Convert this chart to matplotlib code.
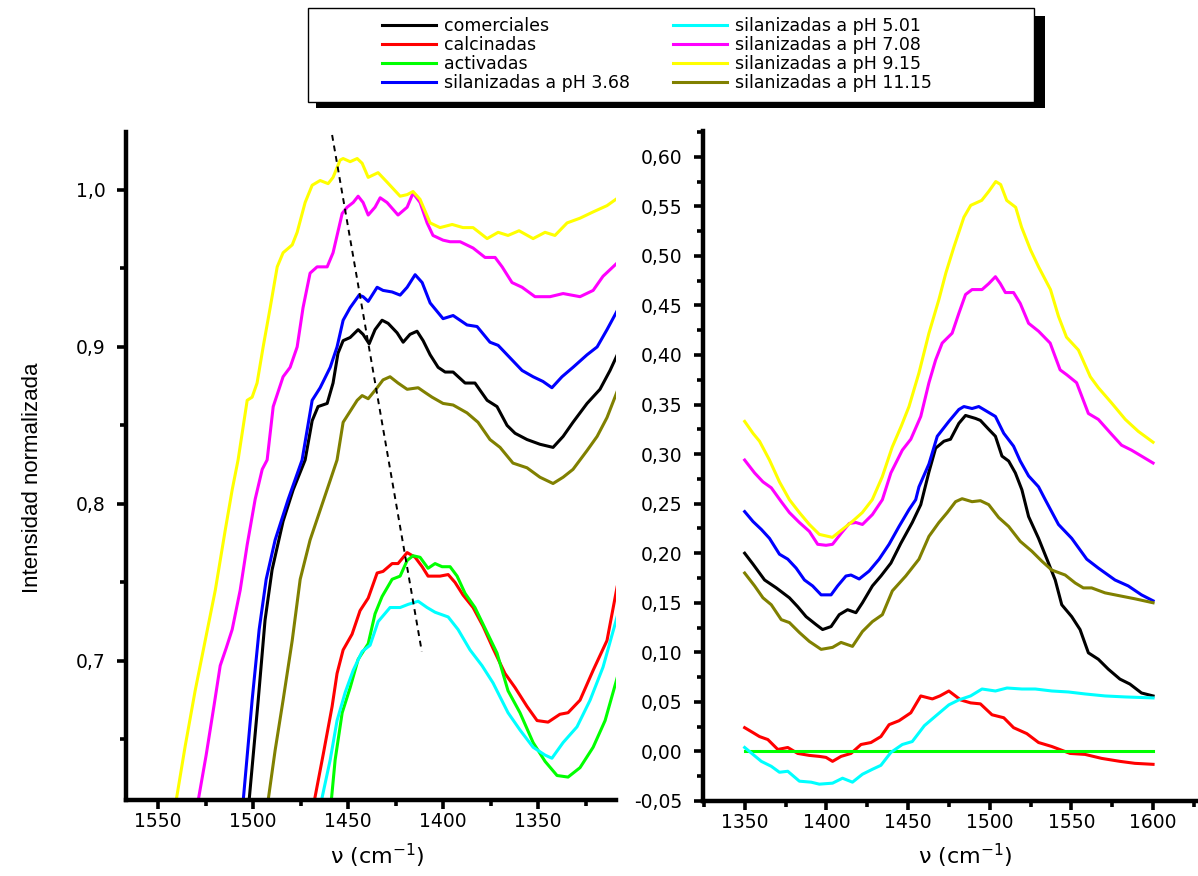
import matplotlib
matplotlib.use("Agg")
import matplotlib.pyplot as plt
from matplotlib.patches import Rectangle
from matplotlib.ticker import MultipleLocator, FuncFormatter

plt.rcParams['font.family'] = ['DejaVu Sans']
plt.rcParams['mathtext.fontset'] = 'dejavusans'

# ---- datos: panel izquierdo (numero de onda, intensidad normalizada) ----
comerciales_izq = [(1502.1, 0.611), (1497.3, 0.675), (1493.7, 0.726), (1490.0, 0.758), (1484.2, 0.789),
                   (1478.9, 0.809), (1472.6, 0.828), (1468.9, 0.853), (1465.8, 0.862), (1461.0, 0.864),
                   (1457.9, 0.877), (1455.3, 0.896), (1452.6, 0.904), (1448.9, 0.906), (1444.7, 0.911),
                   (1442.1, 0.908), (1438.9, 0.902), (1435.8, 0.911), (1432.1, 0.917), (1428.9, 0.915),
                   (1424.2, 0.909), (1421.0, 0.903), (1417.4, 0.908), (1413.7, 0.910), (1410.5, 0.904),
                   (1406.8, 0.895), (1402.6, 0.887), (1398.9, 0.884), (1394.7, 0.884), (1388.4, 0.877),
                   (1383.2, 0.877), (1376.8, 0.866), (1371.6, 0.862), (1366.3, 0.850), (1362.1, 0.845),
                   (1355.8, 0.841), (1349.0, 0.838), (1342.1, 0.836), (1336.8, 0.843), (1331.6, 0.852),
                   (1324.2, 0.864), (1317.4, 0.873), (1312.1, 0.885), (1307.9, 0.896)]
calcinadas_izq = [(1467.9, 0.610), (1463.0, 0.641), (1458.4, 0.671), (1455.8, 0.692), (1452.6, 0.707),
                  (1447.9, 0.717), (1443.7, 0.732), (1439.4, 0.740), (1434.7, 0.756), (1431.6, 0.757),
                  (1426.8, 0.762), (1423.7, 0.762), (1418.9, 0.769), (1414.7, 0.766), (1411.0, 0.760),
                  (1407.9, 0.754), (1401.6, 0.754), (1397.3, 0.755), (1393.7, 0.750), (1389.5, 0.742),
                  (1384.2, 0.734), (1378.9, 0.722), (1373.7, 0.708), (1367.4, 0.692), (1362.1, 0.683),
                  (1355.8, 0.671), (1350.5, 0.662), (1344.7, 0.661), (1338.5, 0.666), (1334.2, 0.667),
                  (1327.9, 0.675), (1321.0, 0.694), (1313.7, 0.713), (1308.4, 0.747)]
activadas_izq = [(1458.9, 0.610), (1456.8, 0.637), (1453.1, 0.667), (1448.9, 0.683), (1444.7, 0.701),
                 (1439.4, 0.711), (1435.8, 0.730), (1432.1, 0.741), (1426.8, 0.752), (1422.6, 0.754),
                 (1418.9, 0.764), (1415.8, 0.767), (1412.1, 0.766), (1407.9, 0.759), (1404.2, 0.762),
                 (1400.5, 0.760), (1396.3, 0.760), (1392.6, 0.754), (1388.4, 0.743), (1383.2, 0.734),
                 (1376.8, 0.718), (1371.6, 0.705), (1365.8, 0.681), (1359.5, 0.667), (1352.6, 0.648),
                 (1346.3, 0.636), (1340.0, 0.627), (1334.2, 0.626), (1327.9, 0.632), (1321.0, 0.645),
                 (1314.7, 0.662), (1308.4, 0.689)]
ph368_izq = [(1505.2, 0.611), (1500.5, 0.675), (1496.8, 0.720), (1493.1, 0.752), (1488.4, 0.777),
             (1481.5, 0.803), (1474.2, 0.828), (1468.9, 0.866), (1464.7, 0.874), (1459.4, 0.887),
             (1455.8, 0.900), (1452.6, 0.917), (1448.9, 0.925), (1444.2, 0.933), (1442.1, 0.932),
             (1439.4, 0.929), (1434.7, 0.938), (1431.6, 0.936), (1426.8, 0.935), (1422.6, 0.933),
             (1418.9, 0.938), (1414.7, 0.946), (1411.0, 0.941), (1406.8, 0.928), (1400.0, 0.918),
             (1394.7, 0.920), (1387.4, 0.914), (1382.1, 0.913), (1375.3, 0.903), (1371.0, 0.901),
             (1364.7, 0.893), (1358.4, 0.885), (1352.6, 0.881), (1347.4, 0.878), (1342.7, 0.874),
             (1337.4, 0.881), (1331.6, 0.887), (1324.2, 0.895), (1318.9, 0.900), (1313.7, 0.911),
             (1307.9, 0.924)]
ph501_izq = [(1464.2, 0.610), (1459.4, 0.637), (1455.8, 0.662), (1451.5, 0.680), (1447.3, 0.694),
             (1442.6, 0.706), (1438.4, 0.710), (1434.2, 0.725), (1427.9, 0.734), (1422.6, 0.734),
             (1418.4, 0.736), (1413.1, 0.738), (1408.4, 0.734), (1404.2, 0.731), (1397.3, 0.728),
             (1392.1, 0.720), (1385.8, 0.707), (1379.5, 0.697), (1373.7, 0.686), (1365.8, 0.667),
             (1359.5, 0.656), (1352.6, 0.645), (1346.3, 0.640), (1342.7, 0.638), (1336.8, 0.648),
             (1329.5, 0.658), (1322.6, 0.675), (1315.8, 0.696), (1308.4, 0.728)]
ph708_izq = [(1528.9, 0.611), (1524.7, 0.640), (1520.5, 0.672), (1517.3, 0.697), (1514.2, 0.708),
             (1511.0, 0.720), (1506.8, 0.745), (1503.1, 0.774), (1498.9, 0.803), (1495.2, 0.822),
             (1492.6, 0.828), (1489.4, 0.862), (1484.2, 0.881), (1480.5, 0.887), (1476.8, 0.900),
             (1473.7, 0.925), (1470.0, 0.947), (1466.3, 0.951), (1461.0, 0.951), (1457.9, 0.960),
             (1453.1, 0.985), (1450.5, 0.989), (1447.3, 0.992), (1444.7, 0.996), (1442.1, 0.992),
             (1439.4, 0.984), (1435.8, 0.989), (1433.1, 0.995), (1429.5, 0.992), (1423.7, 0.984),
             (1418.9, 0.989), (1415.8, 0.998), (1412.1, 0.992), (1408.4, 0.979), (1405.3, 0.971),
             (1400.0, 0.968), (1396.3, 0.967), (1391.0, 0.967), (1384.2, 0.963), (1377.9, 0.957),
             (1372.6, 0.957), (1368.9, 0.951), (1363.7, 0.941), (1358.4, 0.938), (1351.6, 0.932),
             (1343.7, 0.932), (1336.8, 0.934), (1327.9, 0.932), (1321.0, 0.936), (1315.8, 0.945),
             (1307.9, 0.954)]
ph915_izq = [(1540.5, 0.611), (1535.7, 0.646), (1530.5, 0.681), (1525.2, 0.713), (1519.9, 0.745),
             (1514.7, 0.783), (1511.0, 0.809), (1507.9, 0.828), (1503.1, 0.866), (1500.5, 0.868),
             (1497.9, 0.877), (1494.7, 0.900), (1491.0, 0.925), (1487.3, 0.951), (1484.2, 0.960),
             (1479.4, 0.965), (1476.8, 0.973), (1472.6, 0.992), (1468.9, 1.003), (1464.7, 1.006),
             (1460.5, 1.004), (1457.9, 1.008), (1454.2, 1.019), (1452.6, 1.020), (1448.9, 1.018),
             (1445.2, 1.020), (1442.6, 1.017), (1439.4, 1.008), (1434.2, 1.011), (1429.5, 1.005),
             (1422.6, 0.996), (1418.9, 0.997), (1415.8, 0.999), (1412.1, 0.994), (1406.8, 0.979),
             (1401.6, 0.976), (1395.2, 0.978), (1389.5, 0.976), (1384.2, 0.976), (1376.8, 0.969),
             (1371.0, 0.973), (1365.8, 0.971), (1360.0, 0.974), (1352.6, 0.969), (1346.3, 0.973),
             (1341.1, 0.971), (1334.7, 0.979), (1327.9, 0.982), (1321.0, 0.986), (1313.7, 0.990),
             (1307.9, 0.995)]
ph1115_izq = [(1492.1, 0.611), (1488.4, 0.643), (1484.2, 0.675), (1479.4, 0.713), (1475.2, 0.752),
              (1470.0, 0.777), (1464.7, 0.796), (1459.4, 0.815), (1455.8, 0.828), (1452.6, 0.852),
              (1448.9, 0.859), (1445.2, 0.866), (1442.6, 0.869), (1439.4, 0.867), (1434.7, 0.874),
              (1431.6, 0.879), (1427.9, 0.881), (1423.7, 0.877), (1418.9, 0.873), (1413.1, 0.874),
              (1409.5, 0.871), (1405.8, 0.868), (1400.0, 0.864), (1394.7, 0.863), (1387.4, 0.858),
              (1381.6, 0.852), (1375.3, 0.841), (1370.0, 0.836), (1363.2, 0.826), (1355.8, 0.823),
              (1349.0, 0.817), (1342.1, 0.813), (1336.8, 0.817), (1331.6, 0.822), (1324.2, 0.834),
              (1318.9, 0.843), (1313.7, 0.855), (1307.9, 0.873)]
guia_x = [1458.4, 1411.2]
guia_y = [1.035, 0.706]

# ---- datos: panel derecho ----
comerciales_der = [(1350, 0.200), (1355.1, 0.189), (1362.2, 0.173), (1369.4, 0.165), (1377.4, 0.155),
                   (1382.5, 0.146), (1387.6, 0.136), (1393.7, 0.128), (1397.7, 0.123), (1402.9, 0.126),
                   (1407.9, 0.138), (1413.0, 0.143), (1418.1, 0.140), (1422.1, 0.150), (1428.2, 0.167),
                   (1433.4, 0.177), (1439.5, 0.190), (1445.6, 0.210), (1452.6, 0.231), (1457.8, 0.249),
                   (1462.8, 0.282), (1466.9, 0.306), (1472.0, 0.313), (1476.0, 0.315), (1481.1, 0.331),
                   (1485.2, 0.339), (1491.3, 0.336), (1494.3, 0.334), (1499.4, 0.325), (1503.5, 0.318),
                   (1507.5, 0.298), (1511.6, 0.293), (1515.7, 0.281), (1519.7, 0.264), (1523.8, 0.237),
                   (1529.9, 0.215), (1536.0, 0.190), (1540.1, 0.173), (1544.1, 0.148), (1550.2, 0.136),
                   (1555.3, 0.123), (1560.4, 0.0995), (1566.5, 0.093), (1572.6, 0.083), (1579.7, 0.073),
                   (1585.8, 0.068), (1592.9, 0.059), (1600, 0.056)]
calcinadas_der = [(1350, 0.024), (1355.1, 0.019), (1359.1, 0.015), (1364.2, 0.012), (1370.3, 0.002),
                  (1376.4, 0.004), (1382.5, -0.002), (1389.6, -0.004), (1395.7, -0.005), (1399.8, -0.006),
                  (1403.8, -0.010), (1409.0, -0.005), (1415.1, -0.002), (1421.2, 0.007), (1427.3, 0.009),
                  (1433.4, 0.015), (1438.4, 0.027), (1444.5, 0.031), (1451.7, 0.039), (1457.8, 0.056),
                  (1464.9, 0.053), (1469.5, 0.056), (1475.0, 0.061), (1482.2, 0.052), (1488.3, 0.049),
                  (1494.3, 0.048), (1501.4, 0.037), (1508.6, 0.034), (1514.6, 0.024), (1522.7, 0.018),
                  (1529.9, 0.009), (1538.0, 0.005), (1549.2, -0.002), (1558.4, -0.003), (1568.5, -0.007),
                  (1579.7, -0.010), (1588.9, -0.012), (1600, -0.013)]
activadas_der = [(1350, 0.0), (1600, 0.0)]
ph368_der = [(1350, 0.242), (1355.1, 0.232), (1360.2, 0.224), (1365.2, 0.215), (1371.3, 0.199),
             (1376.4, 0.194), (1381.5, 0.185), (1386.6, 0.173), (1391.6, 0.167), (1396.8, 0.158),
             (1402.9, 0.158), (1406.9, 0.167), (1412.0, 0.177), (1415.1, 0.178), (1420.1, 0.174),
             (1426.2, 0.182), (1432.3, 0.194), (1438.4, 0.209), (1444.5, 0.227), (1450.6, 0.244),
             (1454.7, 0.254), (1456.7, 0.267), (1462.8, 0.290), (1467.9, 0.318), (1475.0, 0.333),
             (1481.1, 0.345), (1484.2, 0.348), (1489.2, 0.346), (1493.3, 0.348), (1498.4, 0.343),
             (1503.5, 0.338), (1508.6, 0.321), (1514.6, 0.308), (1518.7, 0.293), (1523.8, 0.278),
             (1529.9, 0.267), (1534.0, 0.254), (1542.1, 0.229), (1550.2, 0.215), (1559.4, 0.194),
             (1566.5, 0.185), (1576.7, 0.173), (1584.8, 0.167), (1592.9, 0.158), (1600, 0.152)]
ph501_der = [(1350, 0.004), (1355.1, -0.003), (1360.2, -0.010), (1366.3, -0.015), (1371.3, -0.021),
             (1376.4, -0.020), (1383.5, -0.030), (1390.7, -0.031), (1395.7, -0.033), (1403.8, -0.032),
             (1409.9, -0.027), (1416.0, -0.031), (1422.1, -0.023), (1428.2, -0.018), (1433.4, -0.014),
             (1439.5, -0.001), (1446.5, 0.007), (1452.6, 0.010), (1460.0, 0.026), (1467.1, 0.036),
             (1475.0, 0.047), (1481.1, 0.052), (1488.3, 0.056), (1495.3, 0.063), (1503.5, 0.061),
             (1510.6, 0.064), (1519.7, 0.063), (1527.9, 0.063), (1538.0, 0.061), (1548.2, 0.060),
             (1558.4, 0.058), (1570.6, 0.056), (1582.8, 0.055), (1600, 0.054)]
ph708_der = [(1350, 0.294), (1356.1, 0.281), (1361.2, 0.272), (1366.3, 0.266), (1372.4, 0.252),
             (1377.4, 0.241), (1383.5, 0.231), (1389.6, 0.222), (1394.7, 0.209), (1399.8, 0.208),
             (1403.8, 0.209), (1409.0, 0.220), (1414.0, 0.230), (1418.1, 0.231), (1422.1, 0.229),
             (1428.2, 0.239), (1434.3, 0.254), (1439.5, 0.281), (1446.5, 0.304), (1451.7, 0.315),
             (1457.8, 0.338), (1462.8, 0.372), (1466.9, 0.395), (1470.9, 0.412), (1477.0, 0.422),
             (1481.1, 0.442), (1485.2, 0.461), (1489.2, 0.466), (1495.3, 0.466), (1499.4, 0.472),
             (1503.5, 0.479), (1506.5, 0.472), (1509.6, 0.463), (1514.6, 0.463), (1518.7, 0.452),
             (1523.8, 0.432), (1529.9, 0.424), (1537.0, 0.412), (1543.1, 0.385), (1547.2, 0.380),
             (1553.2, 0.372), (1560.4, 0.341), (1566.5, 0.335), (1574.6, 0.320), (1580.7, 0.309),
             (1586.8, 0.304), (1592.9, 0.298), (1600, 0.291)]
ph915_der = [(1350, 0.333), (1355.1, 0.321), (1359.1, 0.313), (1365.2, 0.294), (1371.3, 0.272),
             (1377.4, 0.254), (1383.5, 0.241), (1389.6, 0.229), (1395.7, 0.219), (1403.7, 0.216),
             (1409.8, 0.224), (1415.9, 0.232), (1422.0, 0.241), (1428.1, 0.254), (1434.2, 0.277),
             (1440.3, 0.307), (1445.8, 0.328), (1450.6, 0.348), (1456.7, 0.382), (1462.8, 0.422),
             (1468.9, 0.456), (1473.2, 0.483), (1478.1, 0.509), (1484.2, 0.539), (1488.4, 0.551),
             (1495.1, 0.556), (1499.4, 0.565), (1503.7, 0.575), (1506.7, 0.572), (1510.4, 0.556),
             (1515.9, 0.549), (1519.5, 0.529), (1525.0, 0.506), (1529.9, 0.489), (1537.2, 0.466),
             (1542.1, 0.439), (1547.0, 0.418), (1554.3, 0.405), (1561.6, 0.378), (1566.5, 0.367),
             (1574.4, 0.352), (1583.0, 0.335), (1590.9, 0.323), (1600, 0.312)]
ph1115_der = [(1350, 0.180), (1356.1, 0.167), (1361.2, 0.155), (1366.3, 0.148), (1372.4, 0.133),
              (1377.4, 0.130), (1383.5, 0.120), (1389.6, 0.111), (1396.8, 0.103), (1403.8, 0.105),
              (1409.0, 0.110), (1416.0, 0.106), (1422.1, 0.121), (1428.2, 0.131), (1434.3, 0.138),
              (1440.4, 0.162), (1448.6, 0.177), (1456.7, 0.194), (1462.8, 0.217), (1468.9, 0.231),
              (1474.0, 0.241), (1479.1, 0.252), (1483.1, 0.255), (1489.2, 0.252), (1494.3, 0.253),
              (1499.4, 0.249), (1505.5, 0.236), (1511.6, 0.227), (1518.7, 0.212), (1525.8, 0.202),
              (1531.9, 0.192), (1538.0, 0.183), (1546.2, 0.178), (1552.3, 0.170), (1557.3, 0.165),
              (1562.4, 0.165), (1570.6, 0.160), (1579.7, 0.157), (1588.9, 0.154), (1600, 0.150)]

etiquetas = ['comerciales', 'calcinadas', 'activadas', 'silanizadas a pH 3.68',
             'silanizadas a pH 5.01', 'silanizadas a pH 7.08', 'silanizadas a pH 9.15',
             'silanizadas a pH 11.15']
colores = ['#000000', '#ff0000', '#00ff00', '#0000ff', '#00ffff', '#ff00ff', '#ffff00', '#808000']

series_izq = [comerciales_izq, calcinadas_izq, activadas_izq, ph368_izq,
              ph501_izq, ph708_izq, ph915_izq, ph1115_izq]
series_der = [comerciales_der, calcinadas_der, activadas_der, ph368_der,
              ph501_der, ph708_der, ph915_der, ph1115_der]


def coma(fmt):
    return FuncFormatter(lambda v, pos: (fmt % v).replace('.', ','))


def estilo(ax):
    for s in ('top', 'right'):
        ax.spines[s].set_visible(False)
    for s in ('left', 'bottom'):
        ax.spines[s].set_linewidth(3.2)
    ax.tick_params(which='major', direction='out', length=6.5, width=2.6, labelsize=13.5)
    ax.tick_params(which='minor', direction='out', length=4, width=2.6)
    ax.tick_params(axis='x', which='major', pad=2)
    ax.tick_params(axis='y', which='major', pad=8)


W, H = 1198, 876
fig = plt.figure(figsize=(W / 100, H / 100), dpi=100)

ax1 = fig.add_axes([125.8 / W, (H - 800) / H, (616.5 - 125.8) / W, (800 - 132) / H])
ax2 = fig.add_axes([703 / W, (H - 801) / H, (W - 703) / W, (801 - 131) / H])

lineas = []
for datos, c in zip(series_izq, colores):
    xs, ys = zip(*datos)
    ln, = ax1.plot(xs, ys, color=c, lw=2.2, solid_joinstyle='round')
    lineas.append(ln)
ax1.plot(guia_x, guia_y, color='black', lw=1.4, ls=(0, (3, 2.5)))

for datos, c in zip(series_der, colores):
    xs, ys = zip(*datos)
    ax2.plot(xs, ys, color=c, lw=2.2, solid_joinstyle='round')

ax1.set_xlim(1567, 1308.7)
ax1.set_ylim(0.6114, 1.0369)
ax1.xaxis.set_major_locator(MultipleLocator(50))
ax1.xaxis.set_minor_locator(MultipleLocator(25))
ax1.yaxis.set_major_locator(MultipleLocator(0.1))
ax1.yaxis.set_minor_locator(MultipleLocator(0.05))
ax1.yaxis.set_major_formatter(coma('%.1f'))
estilo(ax1)

ax2.set_xlim(1324.5, 1627.5)
ax2.set_ylim(-0.05, 0.626)
ax2.xaxis.set_major_locator(MultipleLocator(50))
ax2.xaxis.set_minor_locator(MultipleLocator(25))
ax2.yaxis.set_major_locator(MultipleLocator(0.05))
ax2.yaxis.set_minor_locator(MultipleLocator(0.025))
ax2.yaxis.set_major_formatter(coma('%.2f'))
estilo(ax2)

fig.text(33 / W, 1 - 478 / H, 'Intensidad normalizada', rotation=90, ha='center', va='center',
         fontsize=16, family=['Liberation Sans Narrow', 'Liberation Sans', 'DejaVu Sans'])
fig.text(377 / W, 1 - 856 / H, r'ν (cm$^{-1}$)', ha='center', va='center', fontsize=16)
fig.text(965 / W, 1 - 856 / H, r'ν (cm$^{-1}$)', ha='center', va='center', fontsize=16)

# marco de la leyenda con sombra
fig.add_artist(Rectangle((316 / W, 1 - 108 / H), 729 / W, 92 / H, transform=fig.transFigure,
                         facecolor='black', edgecolor='none', zorder=1))
fig.add_artist(Rectangle((308 / W, 1 - 102 / H), 726 / W, 94 / H, transform=fig.transFigure,
                         facecolor='white', edgecolor='black', lw=1, zorder=2))
fig.legend(lineas, etiquetas, loc='upper left', bbox_to_anchor=(382 / W, 1 - 17 / H), ncol=2,
           frameon=False, fontsize=12.5, borderpad=0, borderaxespad=0, handlelength=3.1,
           handletextpad=0.45, columnspacing=2.5, labelspacing=0.05)

fig.savefig('out.png', dpi=100)
